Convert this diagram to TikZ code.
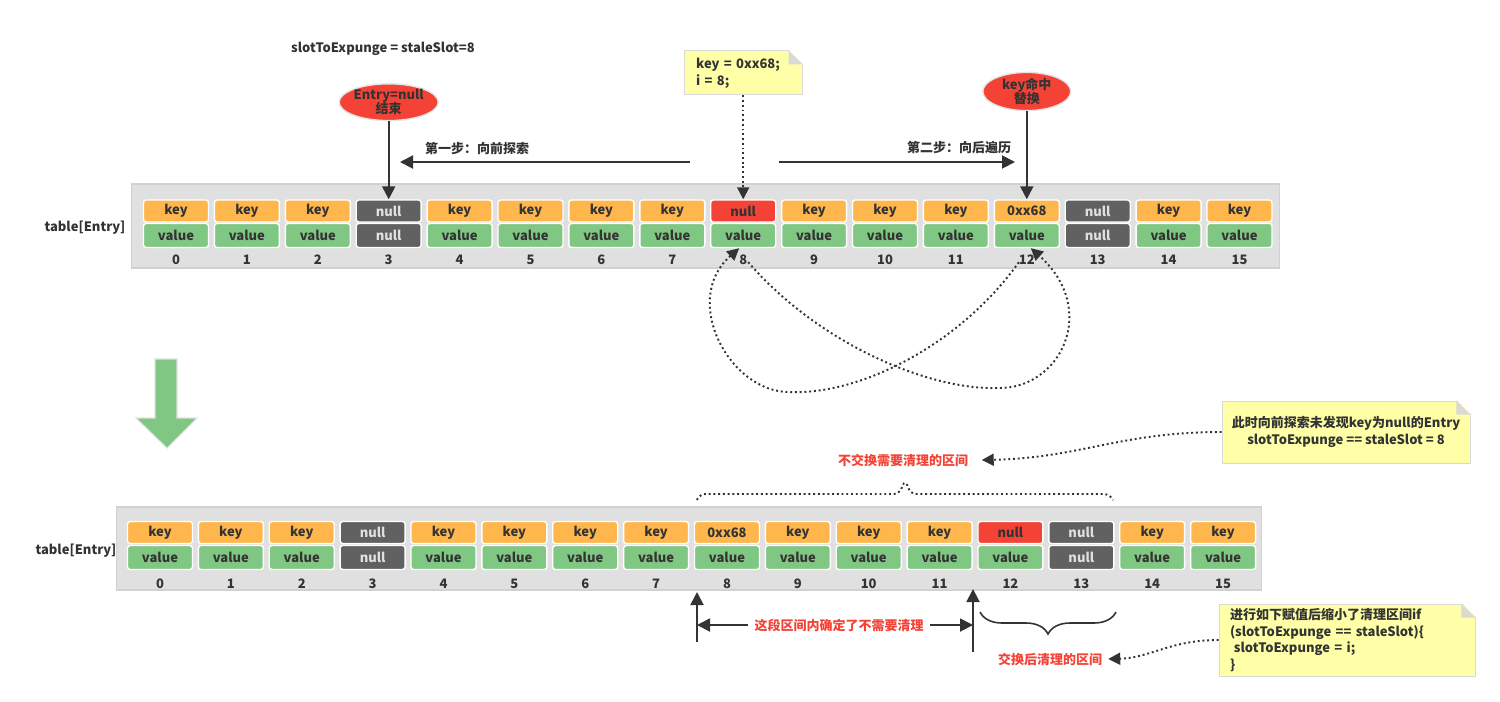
\documentclass[tikz,border=0pt]{standalone}
\usepackage{fontspec}
\setmainfont{Noto Sans CJK SC}
\usepackage{tikz}
\usetikzlibrary{arrows.meta, positioning, calc, shapes.geometric, decorations.pathreplacing}
\definecolor{keyorange}{HTML}{FFB74D}
\definecolor{valgreen}{HTML}{81C784}
\definecolor{nullgray}{HTML}{616161}
\definecolor{hitred}{HTML}{F44336}
\definecolor{tablegray}{HTML}{E0E0E0}
\definecolor{inkgray}{HTML}{333333}
\definecolor{notebg}{HTML}{FFFFA8}
\definecolor{foldgray}{HTML}{D9D9D9}
\newcommand{\foldcorner}[1]{%
  \fill[white] ([xshift=-0.28cm,yshift=0.6pt]#1.north east) -- ([xshift=0.6pt,yshift=0.6pt]#1.north east) -- ([xshift=0.6pt,yshift=-0.28cm]#1.north east) -- cycle;
  \fill[foldgray] ([xshift=-0.28cm]#1.north east) -- ([xshift=-0.28cm,yshift=-0.28cm]#1.north east) -- ([yshift=-0.28cm]#1.north east) -- cycle;}

\begin{document}
\begin{tikzpicture}[x=0.02cm, y=-0.02cm, node distance=8pt,
  every node/.style={font=\fontsize{7.4}{9}\selectfont\bfseries, text=inkgray}]
  \tikzset{cell/.style={minimum width=1.3cm, inner sep=0pt, rounded corners=1.5pt, draw=white, line width=0.8pt},
    keycell/.style={cell, minimum height=0.44cm, fill=keyorange},
    valcell/.style={cell, minimum height=0.48cm, fill=valgreen},
    nullkey/.style={keycell, fill=nullgray, text=tablegray},
    nullval/.style={valcell, fill=nullgray, text=tablegray},
    redkey/.style={keycell, fill=hitred},
    tablebox/.style={fill=tablegray, draw=black!18, line width=0.6pt, inner sep=0pt},
    redoval/.style={ellipse, fill=hitred, draw=black!10, line width=0.8pt, minimum width=1.76cm, minimum height=0.72cm, inner sep=0pt, align=center, font=\fontsize{7.4}{8.2}\selectfont\bfseries},
    note/.style={fill=notebg, draw=black!15, line width=0.5pt, inner sep=0pt, font=\fontsize{7.4}{9.6}\selectfont\bfseries},
    alertlabel/.style={text=hitred},
    stepline/.style={-{Triangle[length=2.6mm, width=2.6mm]}, line width=1.1pt, draw=inkgray},
    dotline/.style={line width=1.1pt, draw=inkgray, dash pattern=on 1.1pt off 1.6pt},
    dotarrow/.style={dotline, -{Triangle[length=2.4mm, width=2.4mm]}}}
  \useasboundingbox (0,0) rectangle (1500,701);

  \node[tablebox, minimum width=22.98cm, minimum height=1.68cm] (tabA) at (705.5,226) {};
  \node (labA) at (85,228) {table[Entry]};
  \foreach \i/\kt/\ks/\vt/\vs in {0/key/keycell/value/valcell, 1/key/keycell/value/valcell,
      2/key/keycell/value/valcell, 3/null/nullkey/null/nullval, 4/key/keycell/value/valcell,
      5/key/keycell/value/valcell, 6/key/keycell/value/valcell, 7/key/keycell/value/valcell,
      8/null/redkey/value/valcell, 9/key/keycell/value/valcell, 10/key/keycell/value/valcell,
      11/key/keycell/value/valcell, 12/0xx68/keycell/value/valcell, 13/null/nullkey/null/nullval,
      14/key/keycell/value/valcell, 15/key/keycell/value/valcell}{
    \node[\ks] (ak\i) at ({176+70.9*\i},211) {\kt};
    \node[\vs] (av\i) at ({176+70.9*\i},235.5) {\vt};
    \node (an\i) at ({176+70.9*\i},260) {\i};
  }

  \node (slotA) at (383,49) {slotToExpunge = staleSlot=8};
  \node[redoval, above=1.56cm of ak3] (stop) {Entry=null\\结束};
  \node[redoval, above=1.76cm of ak12] (hit) {key命中\\替换};
  \node[note, minimum width=2.36cm, minimum height=0.88cm, text width=1.88cm, align=left, above=2.08cm of ak8] (probe) {key = 0xx68;\\i = 8;};
  \foldcorner{probe}
  \draw[stepline] (stop) -- (ak3);
  \draw[stepline] (hit) -- (ak12);
  \draw[dotarrow] (probe) -- (ak8);

  \coordinate (backFrom) at (690,162);
  \coordinate (backTo) at (400,162);
  \draw[stepline] (backFrom) -- (backTo);
  \node (stepA) at (477,148) {第一步：向前探索};
  \coordinate (fwdFrom) at (779,162);
  \coordinate (fwdTo) at (1015,162);
  \draw[stepline] (fwdFrom) -- (fwdTo);
  \node (stepB) at (959,148) {第二步：向后遍历};

  \draw[dotarrow] ([xshift=-0.16cm,yshift=-0.28cm]av12.south) .. controls (960,345) and (860,395) .. (790,392)
    .. controls (730,393) and (680,300) .. ([xshift=-0.08cm]av8.south);
  \draw[dotarrow] ([xshift=0.1cm,yshift=-0.28cm]av8.south) .. controls (820,345) and (930,390) .. (997,388)
    .. controls (1060,390) and (1100,310) .. ([xshift=0.08cm]av12.south);

  \fill[valgreen, draw=black!12, line width=0.6pt] (155,359) -- (177,359) -- (177,418) -- (197,418)
    -- (167,448) -- (136,418) -- (155,418) -- cycle;

  \node[tablebox, minimum width=22.92cm, minimum height=1.66cm] (tabB) at (689,548.5) {};
  \node (labB) at (76,551) {table[Entry]};
  \foreach \i/\kt/\ks/\vt/\vs in {0/key/keycell/value/valcell, 1/key/keycell/value/valcell,
      2/key/keycell/value/valcell, 3/null/nullkey/null/nullval, 4/key/keycell/value/valcell,
      5/key/keycell/value/valcell, 6/key/keycell/value/valcell, 7/key/keycell/value/valcell,
      8/0xx68/keycell/value/valcell, 9/key/keycell/value/valcell, 10/key/keycell/value/valcell,
      11/key/keycell/value/valcell, 12/null/redkey/value/valcell, 13/null/nullkey/null/nullval,
      14/key/keycell/value/valcell, 15/key/keycell/value/valcell}{
    \node[\ks] (bk\i) at ({160+70.87*\i},532.5) {\kt};
    \node[\vs] (bv\i) at ({160+70.87*\i},557.5) {\vt};
    \node (bn\i) at ({160+70.87*\i},584) {\i};
  }

  \node[note, minimum width=4.96cm, minimum height=1.24cm, align=center] (scan) at (1346,432)
    {此时向前探索未发现key为null的Entry\\slotToExpunge == staleSlot = 8};
  \foldcorner{scan}
  \node[alertlabel] (keep) at (903,460) {不交换需要清理的区间};
  \draw[dotarrow] (scan.west) .. controls (1120,432) and (1080,458) .. ([xshift=0.15cm]keep.east);
  \draw[dotline, rounded corners=3pt] (697,500) -- (700,494) -- (899,494) -- (905,480) -- (911,494) -- (1109,494) -- (1113,500);

  \coordinate (keepLow) at (697,642);
  \coordinate (keepTop) at (697,592);
  \coordinate (swapLow) at (973,652);
  \coordinate (swapTop) at (973,589);
  \draw[stepline] (keepLow) -- (keepTop);
  \draw[stepline] (swapLow) -- (swapTop);
  \node[alertlabel] (sure) at (839,625) {这段区间内确定了不需要清理};
  \draw[stepline] (sure.west) -- (sure.west -| keepTop);
  \draw[stepline] (sure.east) -- (sure.east -| swapTop);

  \draw[inkgray, line width=0.9pt, decorate, decoration={brace, amplitude=0.44cm}] (1116,612) -- (980,612);
  \node[alertlabel] (after) at (1050,659) {交换后清理的区间};
  \node[note, minimum width=5.12cm, minimum height=1.44cm, text width=4.68cm, align=left] (shrink) at (1347,640)
    {进行如下赋值后缩小了清理区间if\\(slotToExpunge == staleSlot)\{\\\hspace*{0.3em}slotToExpunge = i;\\\}};
  \foldcorner{shrink}
  \draw[dotarrow] (shrink.west) .. controls (1170,640) and (1150,658) .. (after.east);
\end{tikzpicture}
\end{document}
